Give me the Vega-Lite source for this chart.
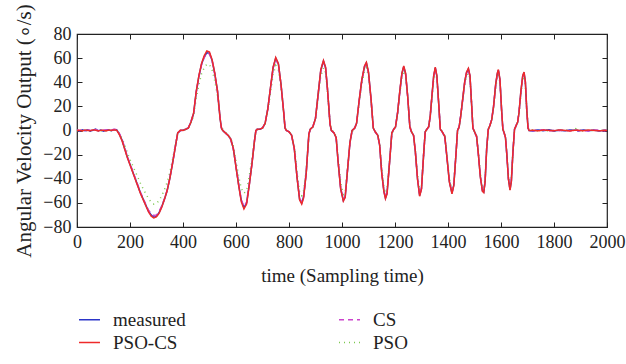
{
  "$schema": "https://vega.github.io/schema/vega-lite/v6.json",
  "autosize": "none",
  "width": 530,
  "height": 193,
  "padding": {"left": 77, "top": 34, "right": 19, "bottom": 137},
  "background": "white",
  "data": {"values": [
    {"t":0,"measured":0.3,"PSO-CS":0,"CS":0.5,"PSO":-0.3},
    {"t":10,"measured":-0.4,"PSO-CS":0.2,"CS":-0.2,"PSO":0.4},
    {"t":20,"measured":0.5,"PSO-CS":-0.3,"CS":0.2,"PSO":-0.5},
    {"t":30,"measured":-0.2,"PSO-CS":0.4,"CS":-0.6,"PSO":0.3},
    {"t":40,"measured":0.6,"PSO-CS":0.1,"CS":0.3,"PSO":-0.2},
    {"t":50,"measured":-0.5,"PSO-CS":-0.2,"CS":0.4,"PSO":0.6},
    {"t":60,"measured":0.2,"PSO-CS":0.5,"CS":-0.3,"PSO":-0.4},
    {"t":70,"measured":1.2,"PSO-CS":0.3,"CS":0.8,"PSO":0.5},
    {"t":80,"measured":-0.3,"PSO-CS":-0.4,"CS":0.1,"PSO":0.2},
    {"t":90,"measured":0.4,"PSO-CS":0.2,"CS":-0.5,"PSO":-0.3},
    {"t":100,"measured":-0.6,"PSO-CS":0.1,"CS":0.3,"PSO":0.5},
    {"t":110,"measured":0.3,"PSO-CS":-0.3,"CS":0.6,"PSO":-0.2},
    {"t":120,"measured":0.5,"PSO-CS":0.4,"CS":-0.2,"PSO":0.7},
    {"t":130,"measured":-0.2,"PSO-CS":0.1,"CS":0.4,"PSO":-0.5},
    {"t":140,"measured":0.8,"PSO-CS":0.5,"CS":1.0,"PSO":0.3},
    {"t":150,"measured":0.5,"PSO-CS":0.2,"CS":0.8,"PSO":0.4},
    {"t":160,"measured":-3,"PSO-CS":-3.5,"CS":-2.5,"PSO":-2.5},
    {"t":170,"measured":-8,"PSO-CS":-8.5,"CS":-7.5,"PSO":-6.5},
    {"t":180,"measured":-15,"PSO-CS":-15.5,"CS":-14,"PSO":-12},
    {"t":190,"measured":-22,"PSO-CS":-22.5,"CS":-21.5,"PSO":-18.5},
    {"t":200,"measured":-28,"PSO-CS":-28.5,"CS":-27.5,"PSO":-24},
    {"t":210,"measured":-34,"PSO-CS":-34.5,"CS":-33.5,"PSO":-29},
    {"t":220,"measured":-40,"PSO-CS":-40.5,"CS":-39.5,"PSO":-34},
    {"t":230,"measured":-46,"PSO-CS":-46.5,"CS":-45.5,"PSO":-39},
    {"t":240,"measured":-52,"PSO-CS":-52.5,"CS":-51.5,"PSO":-44},
    {"t":250,"measured":-57,"PSO-CS":-57.5,"CS":-56.5,"PSO":-48.5},
    {"t":260,"measured":-62,"PSO-CS":-62.5,"CS":-61.5,"PSO":-52.5},
    {"t":270,"measured":-67,"PSO-CS":-67.5,"CS":-66,"PSO":-56.5},
    {"t":280,"measured":-70,"PSO-CS":-71,"CS":-69,"PSO":-59.5},
    {"t":290,"measured":-72,"PSO-CS":-72.5,"CS":-70.5,"PSO":-61},
    {"t":300,"measured":-71,"PSO-CS":-71.5,"CS":-70,"PSO":-60.5},
    {"t":310,"measured":-68,"PSO-CS":-68.5,"CS":-67,"PSO":-58},
    {"t":320,"measured":-63,"PSO-CS":-63.5,"CS":-62.5,"PSO":-54},
    {"t":330,"measured":-57,"PSO-CS":-57,"CS":-56.5,"PSO":-49},
    {"t":340,"measured":-50,"PSO-CS":-50,"CS":-49.5,"PSO":-43},
    {"t":350,"measured":-40,"PSO-CS":-40,"CS":-39.5,"PSO":-35},
    {"t":360,"measured":-28,"PSO-CS":-28,"CS":-27.5,"PSO":-25},
    {"t":370,"measured":-15,"PSO-CS":-15,"CS":-14.5,"PSO":-13},
    {"t":380,"measured":-2,"PSO-CS":-2,"CS":-2,"PSO":-3},
    {"t":390,"measured":0,"PSO-CS":0.3,"CS":-0.3,"PSO":-0.5},
    {"t":400,"measured":0.2,"PSO-CS":0,"CS":0.4,"PSO":0.3},
    {"t":410,"measured":1,"PSO-CS":1,"CS":1.2,"PSO":0.8},
    {"t":420,"measured":2,"PSO-CS":2,"CS":2.3,"PSO":1.8},
    {"t":430,"measured":7,"PSO-CS":7,"CS":7.5,"PSO":6},
    {"t":440,"measured":14,"PSO-CS":14.5,"CS":14,"PSO":12},
    {"t":450,"measured":32,"PSO-CS":32.5,"CS":31.5,"PSO":27},
    {"t":460,"measured":45,"PSO-CS":45.5,"CS":44.5,"PSO":38},
    {"t":470,"measured":55,"PSO-CS":55.5,"CS":54.5,"PSO":47},
    {"t":480,"measured":61,"PSO-CS":62,"CS":60.5,"PSO":52},
    {"t":490,"measured":64.5,"PSO-CS":66,"CS":64,"PSO":55},
    {"t":500,"measured":64,"PSO-CS":65,"CS":63.5,"PSO":54.5},
    {"t":510,"measured":58,"PSO-CS":58.5,"CS":57.5,"PSO":50},
    {"t":520,"measured":47,"PSO-CS":47.5,"CS":46.5,"PSO":41},
    {"t":530,"measured":33,"PSO-CS":33,"CS":32.5,"PSO":29},
    {"t":540,"measured":10,"PSO-CS":10,"CS":10.5,"PSO":10},
    {"t":545,"measured":2,"PSO-CS":2,"CS":2.5,"PSO":3},
    {"t":550,"measured":0,"PSO-CS":0,"CS":0.3,"PSO":1},
    {"t":560,"measured":-2,"PSO-CS":-2,"CS":-2,"PSO":-1.5},
    {"t":570,"measured":-4,"PSO-CS":-4,"CS":-4.2,"PSO":-3.5},
    {"t":580,"measured":-7,"PSO-CS":-7,"CS":-7.5,"PSO":-6},
    {"t":590,"measured":-15,"PSO-CS":-15,"CS":-15.5,"PSO":-13},
    {"t":600,"measured":-30,"PSO-CS":-30.5,"CS":-29.5,"PSO":-25},
    {"t":610,"measured":-45,"PSO-CS":-45.5,"CS":-44.5,"PSO":-38},
    {"t":620,"measured":-58,"PSO-CS":-59,"CS":-57.5,"PSO":-48},
    {"t":630,"measured":-64,"PSO-CS":-65,"CS":-63,"PSO":-52},
    {"t":640,"measured":-60,"PSO-CS":-61,"CS":-59.5,"PSO":-50},
    {"t":650,"measured":-45,"PSO-CS":-45.5,"CS":-44.5,"PSO":-38},
    {"t":660,"measured":-28,"PSO-CS":-28,"CS":-27.5,"PSO":-24},
    {"t":670,"measured":-8,"PSO-CS":-8,"CS":-8.5,"PSO":-8},
    {"t":675,"measured":0,"PSO-CS":0,"CS":-0.5,"PSO":-2},
    {"t":680,"measured":1,"PSO-CS":1,"CS":0.8,"PSO":0.5},
    {"t":690,"measured":1,"PSO-CS":1.2,"CS":0.8,"PSO":1},
    {"t":700,"measured":2,"PSO-CS":2,"CS":2.2,"PSO":2},
    {"t":710,"measured":6,"PSO-CS":6,"CS":6.3,"PSO":5.5},
    {"t":720,"measured":18,"PSO-CS":18,"CS":17.5,"PSO":16},
    {"t":730,"measured":35,"PSO-CS":35.5,"CS":34.5,"PSO":31},
    {"t":740,"measured":52,"PSO-CS":52.5,"CS":51.5,"PSO":46},
    {"t":750,"measured":60,"PSO-CS":60.5,"CS":59.5,"PSO":54},
    {"t":760,"measured":55,"PSO-CS":55.5,"CS":54.5,"PSO":50},
    {"t":770,"measured":38,"PSO-CS":38,"CS":37.5,"PSO":35},
    {"t":780,"measured":15,"PSO-CS":15,"CS":15.5,"PSO":14},
    {"t":785,"measured":2,"PSO-CS":2,"CS":2.5,"PSO":3},
    {"t":790,"measured":0,"PSO-CS":0,"CS":0.3,"PSO":0.5},
    {"t":800,"measured":-1,"PSO-CS":-1,"CS":-1.2,"PSO":-1},
    {"t":810,"measured":-4,"PSO-CS":-4,"CS":-4.3,"PSO":-3.5},
    {"t":820,"measured":-15,"PSO-CS":-15,"CS":-15.5,"PSO":-13},
    {"t":830,"measured":-38,"PSO-CS":-38.5,"CS":-37.5,"PSO":-34},
    {"t":840,"measured":-57,"PSO-CS":-57.5,"CS":-56.5,"PSO":-51},
    {"t":848,"measured":-60,"PSO-CS":-61,"CS":-59.5,"PSO":-54},
    {"t":855,"measured":-55,"PSO-CS":-56,"CS":-54.5,"PSO":-50},
    {"t":865,"measured":-35,"PSO-CS":-35.5,"CS":-34.5,"PSO":-32},
    {"t":875,"measured":-3,"PSO-CS":-3,"CS":-3.5,"PSO":-4},
    {"t":880,"measured":1,"PSO-CS":1,"CS":0.8,"PSO":0},
    {"t":890,"measured":3,"PSO-CS":3,"CS":3.2,"PSO":2.8},
    {"t":900,"measured":10,"PSO-CS":10,"CS":10.5,"PSO":9},
    {"t":910,"measured":30,"PSO-CS":30.5,"CS":29.5,"PSO":27},
    {"t":920,"measured":50,"PSO-CS":50.5,"CS":49.5,"PSO":45},
    {"t":930,"measured":57.5,"PSO-CS":58,"CS":57,"PSO":52},
    {"t":938,"measured":52,"PSO-CS":52.5,"CS":51.5,"PSO":48},
    {"t":945,"measured":35,"PSO-CS":35,"CS":34.5,"PSO":33},
    {"t":955,"measured":5,"PSO-CS":5,"CS":5.5,"PSO":6},
    {"t":960,"measured":0,"PSO-CS":0,"CS":0.3,"PSO":1},
    {"t":970,"measured":-2,"PSO-CS":-2,"CS":-2.2,"PSO":-1.5},
    {"t":978,"measured":-6,"PSO-CS":-6,"CS":-6.4,"PSO":-5},
    {"t":985,"measured":-25,"PSO-CS":-25.5,"CS":-24.5,"PSO":-22},
    {"t":995,"measured":-48,"PSO-CS":-48.5,"CS":-47.5,"PSO":-43},
    {"t":1005,"measured":-58,"PSO-CS":-58.5,"CS":-57.5,"PSO":-53},
    {"t":1012,"measured":-55,"PSO-CS":-55.5,"CS":-54.5,"PSO":-51},
    {"t":1020,"measured":-35,"PSO-CS":-35,"CS":-34.5,"PSO":-32},
    {"t":1030,"measured":-10,"PSO-CS":-10,"CS":-10.5,"PSO":-10},
    {"t":1038,"measured":0,"PSO-CS":0,"CS":-0.3,"PSO":-1},
    {"t":1048,"measured":2,"PSO-CS":2,"CS":2.2,"PSO":1.8},
    {"t":1055,"measured":6,"PSO-CS":6,"CS":6.3,"PSO":5.5},
    {"t":1065,"measured":25,"PSO-CS":25.5,"CS":24.5,"PSO":23},
    {"t":1075,"measured":42,"PSO-CS":42.5,"CS":41.5,"PSO":39},
    {"t":1085,"measured":53,"PSO-CS":53.5,"CS":52.5,"PSO":49},
    {"t":1092,"measured":56,"PSO-CS":56.5,"CS":55.5,"PSO":52},
    {"t":1100,"measured":48,"PSO-CS":48.5,"CS":47.5,"PSO":45},
    {"t":1110,"measured":25,"PSO-CS":25,"CS":24.5,"PSO":24},
    {"t":1118,"measured":2,"PSO-CS":2,"CS":2.5,"PSO":3},
    {"t":1125,"measured":-1,"PSO-CS":-1,"CS":-1.2,"PSO":-0.5},
    {"t":1135,"measured":-4,"PSO-CS":-4,"CS":-4.3,"PSO":-3.5},
    {"t":1142,"measured":-12,"PSO-CS":-12,"CS":-12.5,"PSO":-11},
    {"t":1150,"measured":-35,"PSO-CS":-35.5,"CS":-34.5,"PSO":-32},
    {"t":1158,"measured":-50,"PSO-CS":-50.5,"CS":-49.5,"PSO":-46},
    {"t":1164,"measured":-56,"PSO-CS":-56.5,"CS":-55.5,"PSO":-52},
    {"t":1170,"measured":-52,"PSO-CS":-52.5,"CS":-51.5,"PSO":-49},
    {"t":1180,"measured":-25,"PSO-CS":-25,"CS":-24.5,"PSO":-24},
    {"t":1188,"measured":-2,"PSO-CS":-2,"CS":-2.5,"PSO":-3},
    {"t":1195,"measured":1,"PSO-CS":1,"CS":0.8,"PSO":0.5},
    {"t":1202,"measured":3,"PSO-CS":3,"CS":3.3,"PSO":2.8},
    {"t":1210,"measured":15,"PSO-CS":15,"CS":15.5,"PSO":14},
    {"t":1218,"measured":32,"PSO-CS":32.5,"CS":31.5,"PSO":30},
    {"t":1226,"measured":47,"PSO-CS":47.5,"CS":46.5,"PSO":44},
    {"t":1233,"measured":53,"PSO-CS":53.5,"CS":52.5,"PSO":49.5},
    {"t":1240,"measured":47,"PSO-CS":47.5,"CS":46.5,"PSO":44.5},
    {"t":1248,"measured":28,"PSO-CS":28,"CS":27.5,"PSO":27},
    {"t":1256,"measured":3,"PSO-CS":3,"CS":3.5,"PSO":4},
    {"t":1262,"measured":-1,"PSO-CS":-1,"CS":-1.2,"PSO":-0.5},
    {"t":1270,"measured":-4,"PSO-CS":-4,"CS":-4.3,"PSO":-3.5},
    {"t":1277,"measured":-18,"PSO-CS":-18,"CS":-18.5,"PSO":-17},
    {"t":1285,"measured":-40,"PSO-CS":-40.5,"CS":-39.5,"PSO":-37},
    {"t":1293,"measured":-54,"PSO-CS":-54.5,"CS":-53.5,"PSO":-50},
    {"t":1300,"measured":-48,"PSO-CS":-48.5,"CS":-47.5,"PSO":-45.5},
    {"t":1308,"measured":-20,"PSO-CS":-20,"CS":-19.5,"PSO":-19.5},
    {"t":1314,"measured":-1,"PSO-CS":-1,"CS":-1.5,"PSO":-2},
    {"t":1320,"measured":1,"PSO-CS":1,"CS":0.8,"PSO":0.5},
    {"t":1327,"measured":3,"PSO-CS":3,"CS":3.3,"PSO":2.8},
    {"t":1333,"measured":12,"PSO-CS":12,"CS":12.5,"PSO":11},
    {"t":1340,"measured":30,"PSO-CS":30.5,"CS":29.5,"PSO":28},
    {"t":1346,"measured":45,"PSO-CS":45.5,"CS":44.5,"PSO":42},
    {"t":1352,"measured":52,"PSO-CS":52.5,"CS":51.5,"PSO":48.5},
    {"t":1358,"measured":45,"PSO-CS":45.5,"CS":44.5,"PSO":43},
    {"t":1365,"measured":22,"PSO-CS":22,"CS":21.5,"PSO":21.5},
    {"t":1371,"measured":1,"PSO-CS":1,"CS":1.5,"PSO":2},
    {"t":1378,"measured":-1,"PSO-CS":-1,"CS":-1.2,"PSO":-0.5},
    {"t":1388,"measured":-5,"PSO-CS":-5,"CS":-5.3,"PSO":-4.5},
    {"t":1395,"measured":-20,"PSO-CS":-20,"CS":-20.5,"PSO":-19},
    {"t":1405,"measured":-42,"PSO-CS":-42.5,"CS":-41.5,"PSO":-39},
    {"t":1415,"measured":-52,"PSO-CS":-52.5,"CS":-51.5,"PSO":-48.5},
    {"t":1422,"measured":-45,"PSO-CS":-45.5,"CS":-44.5,"PSO":-43},
    {"t":1430,"measured":-20,"PSO-CS":-20,"CS":-19.5,"PSO":-19.5},
    {"t":1436,"measured":0,"PSO-CS":0,"CS":-0.5,"PSO":-1},
    {"t":1442,"measured":3,"PSO-CS":3,"CS":3.3,"PSO":2.8},
    {"t":1448,"measured":12,"PSO-CS":12,"CS":12.5,"PSO":11},
    {"t":1455,"measured":25,"PSO-CS":25.5,"CS":24.5,"PSO":23.5},
    {"t":1463,"measured":40,"PSO-CS":40.5,"CS":39.5,"PSO":37.5},
    {"t":1470,"measured":48,"PSO-CS":48.5,"CS":47.5,"PSO":45},
    {"t":1477,"measured":51,"PSO-CS":51.5,"CS":50.5,"PSO":47.5},
    {"t":1483,"measured":45,"PSO-CS":45.5,"CS":44.5,"PSO":43},
    {"t":1489,"measured":22,"PSO-CS":22,"CS":21.5,"PSO":21.5},
    {"t":1494,"measured":2,"PSO-CS":2,"CS":2.5,"PSO":3},
    {"t":1500,"measured":-1,"PSO-CS":-1,"CS":-1.2,"PSO":-0.5},
    {"t":1508,"measured":-5,"PSO-CS":-5,"CS":-5.3,"PSO":-4.5},
    {"t":1514,"measured":-18,"PSO-CS":-18,"CS":-18.5,"PSO":-17},
    {"t":1522,"measured":-38,"PSO-CS":-38.5,"CS":-37.5,"PSO":-35.5},
    {"t":1530,"measured":-50,"PSO-CS":-50.5,"CS":-49.5,"PSO":-47},
    {"t":1535,"measured":-51,"PSO-CS":-51.5,"CS":-50.5,"PSO":-48},
    {"t":1540,"measured":-42,"PSO-CS":-42.5,"CS":-41.5,"PSO":-40},
    {"t":1546,"measured":-15,"PSO-CS":-15,"CS":-14.5,"PSO":-15},
    {"t":1552,"measured":1,"PSO-CS":1,"CS":0.5,"PSO":0},
    {"t":1558,"measured":4,"PSO-CS":4,"CS":4.3,"PSO":3.8},
    {"t":1565,"measured":9,"PSO-CS":9,"CS":9.5,"PSO":8.5},
    {"t":1572,"measured":20,"PSO-CS":20,"CS":20.5,"PSO":19},
    {"t":1580,"measured":38,"PSO-CS":38.5,"CS":37.5,"PSO":35.5},
    {"t":1586,"measured":47,"PSO-CS":47.5,"CS":46.5,"PSO":44},
    {"t":1590,"measured":50,"PSO-CS":50.5,"CS":49.5,"PSO":46.5},
    {"t":1596,"measured":42,"PSO-CS":42.5,"CS":41.5,"PSO":40},
    {"t":1602,"measured":18,"PSO-CS":18,"CS":17.5,"PSO":18},
    {"t":1607,"measured":1,"PSO-CS":1,"CS":1.5,"PSO":2},
    {"t":1612,"measured":-2,"PSO-CS":-2,"CS":-2.2,"PSO":-1.5},
    {"t":1617,"measured":-6,"PSO-CS":-6,"CS":-6.3,"PSO":-5.5},
    {"t":1622,"measured":-20,"PSO-CS":-20,"CS":-20.5,"PSO":-19},
    {"t":1628,"measured":-40,"PSO-CS":-40.5,"CS":-39.5,"PSO":-37.5},
    {"t":1634,"measured":-49,"PSO-CS":-49.5,"CS":-48.5,"PSO":-46},
    {"t":1639,"measured":-42,"PSO-CS":-42.5,"CS":-41.5,"PSO":-40},
    {"t":1645,"measured":-18,"PSO-CS":-18,"CS":-17.5,"PSO":-18},
    {"t":1651,"measured":1,"PSO-CS":1,"CS":0.5,"PSO":0},
    {"t":1657,"measured":4,"PSO-CS":4,"CS":4.3,"PSO":3.8},
    {"t":1663,"measured":7,"PSO-CS":7,"CS":7.4,"PSO":6.5},
    {"t":1668,"measured":15,"PSO-CS":15,"CS":15.5,"PSO":14},
    {"t":1675,"measured":32,"PSO-CS":32.5,"CS":31.5,"PSO":30},
    {"t":1682,"measured":45,"PSO-CS":45.5,"CS":44.5,"PSO":42},
    {"t":1687,"measured":48,"PSO-CS":48.5,"CS":47.5,"PSO":45},
    {"t":1692,"measured":40,"PSO-CS":40.5,"CS":39.5,"PSO":38},
    {"t":1697,"measured":18,"PSO-CS":18,"CS":17.5,"PSO":18},
    {"t":1702,"measured":2,"PSO-CS":2,"CS":2.5,"PSO":3},
    {"t":1706,"measured":0,"PSO-CS":0,"CS":0.3,"PSO":0.5},
    {"t":1720,"measured":-0.4,"PSO-CS":0.2,"CS":-0.3,"PSO":0.5},
    {"t":1740,"measured":0.5,"PSO-CS":-0.3,"CS":0.4,"PSO":-0.4},
    {"t":1760,"measured":-0.2,"PSO-CS":0.4,"CS":0.6,"PSO":0.2},
    {"t":1780,"measured":0.6,"PSO-CS":0.1,"CS":-0.4,"PSO":-0.6},
    {"t":1800,"measured":-0.5,"PSO-CS":-0.2,"CS":0.3,"PSO":0.4},
    {"t":1820,"measured":0.3,"PSO-CS":0.5,"CS":-0.2,"PSO":-0.3},
    {"t":1840,"measured":-0.3,"PSO-CS":0.1,"CS":0.5,"PSO":0.6},
    {"t":1860,"measured":0.4,"PSO-CS":-0.4,"CS":-0.3,"PSO":-0.2},
    {"t":1880,"measured":0.2,"PSO-CS":0.3,"CS":0.4,"PSO":0.5},
    {"t":1885,"measured":0.5,"PSO-CS":0.3,"CS":0.6,"PSO":3},
    {"t":1890,"measured":-0.4,"PSO-CS":0.2,"CS":-0.2,"PSO":0.1},
    {"t":1910,"measured":0.5,"PSO-CS":-0.2,"CS":0.3,"PSO":-0.5},
    {"t":1930,"measured":-0.3,"PSO-CS":0.4,"CS":-0.5,"PSO":0.4},
    {"t":1950,"measured":0.4,"PSO-CS":0.1,"CS":0.2,"PSO":-0.3},
    {"t":1970,"measured":-0.5,"PSO-CS":-0.3,"CS":0.4,"PSO":0.5},
    {"t":1990,"measured":0.3,"PSO-CS":0.2,"CS":-0.3,"PSO":-0.2},
    {"t":2000,"measured":0.1,"PSO-CS":-0.1,"CS":0.2,"PSO":0.3}
  ]},
  "layer": [
    {
      "transform": [{"fold": ["measured", "PSO", "CS", "PSO-CS"], "as": ["series", "v"]}],
      "mark": {"type": "line", "strokeWidth": 1.5, "clip": true},
      "encoding": {
        "x": {"field": "t", "type": "quantitative",
              "scale": {"domain": [0, 2000], "nice": false},
              "axis": {"values": [0,200,400,600,800,1000,1200,1400,1600,1800,2000], "format": "d", "title": "time (Sampling time)", "orient": "bottom", "labelFlush": false, "titlePadding": 15, "titleFontSize": 19}},
        "y": {"field": "v", "type": "quantitative",
              "scale": {"domain": [-80, 80], "nice": false},
              "axis": {"values": [-80,-60,-40,-20,0,20,40,60,80], "format": "d", "title": "Angular Velocity Output (∘/s)", "orient": "left", "titlePadding": 8, "titleFontSize": 21}},
        "color": {"field": "series", "type": "nominal",
                  "scale": {"domain": ["measured", "PSO-CS", "CS", "PSO"], "range": ["#2b35c8", "#ee2a2a", "#cc44cc", "#7cc850"]},
                  "legend": {"title": null, "orient": "none", "legendX": 1, "legendY": 274, "columns": 2, "direction": "vertical", "symbolType": "stroke", "symbolSize": 440, "symbolStrokeWidth": 1.5, "labelFont": "Liberation Serif", "labelFontSize": 19, "labelColor": "#222", "columnPadding": 150, "rowPadding": 1, "labelOffset": 12, "padding": 0}},
        "strokeDash": {"field": "series", "type": "nominal",
                  "scale": {"domain": ["measured", "PSO-CS", "CS", "PSO"], "range": [[1, 0], [1, 0], [5, 4], [1, 4]]},
                  "legend": {"title": null, "orient": "none", "legendX": 1, "legendY": 274, "columns": 2, "direction": "vertical", "symbolType": "stroke", "symbolSize": 440, "symbolStrokeWidth": 1.5, "labelFont": "Liberation Serif", "labelFontSize": 19, "labelColor": "#222", "columnPadding": 150, "rowPadding": 1, "labelOffset": 12, "padding": 0}}
      }
    },
    {
      "data": {"values": [{"t": 0, "v": 0}]},
      "mark": {"type": "point", "opacity": 0},
      "encoding": {
        "x": {"field": "t", "type": "quantitative", "scale": {"domain": [0, 2000], "nice": false},
              "axis": {"values": [0,200,400,600,800,1000,1200,1400,1600,1800,2000], "orient": "top", "labels": false, "title": null}},
        "y": {"field": "v", "type": "quantitative", "scale": {"domain": [-80, 80], "nice": false},
              "axis": {"values": [-80,-60,-40,-20,0,20,40,60,80], "orient": "right", "labels": false, "title": null}}
      }
    }
  ],
  "resolve": {"axis": {"x": "independent", "y": "independent"}},
  "config": {
    "view": {"stroke": "#222", "strokeWidth": 1.2},
    "axis": {"grid": false, "domain": false, "ticks": true, "tickSize": -5, "tickColor": "#222", "tickWidth": 1,
             "labelFont": "Liberation Serif", "labelFontSize": 18, "labelColor": "#222", "labelPadding": 11,
             "titleFont": "Liberation Serif", "titleFontSize": 19, "titleColor": "#222", "titleFontWeight": "normal"}
  }
}
